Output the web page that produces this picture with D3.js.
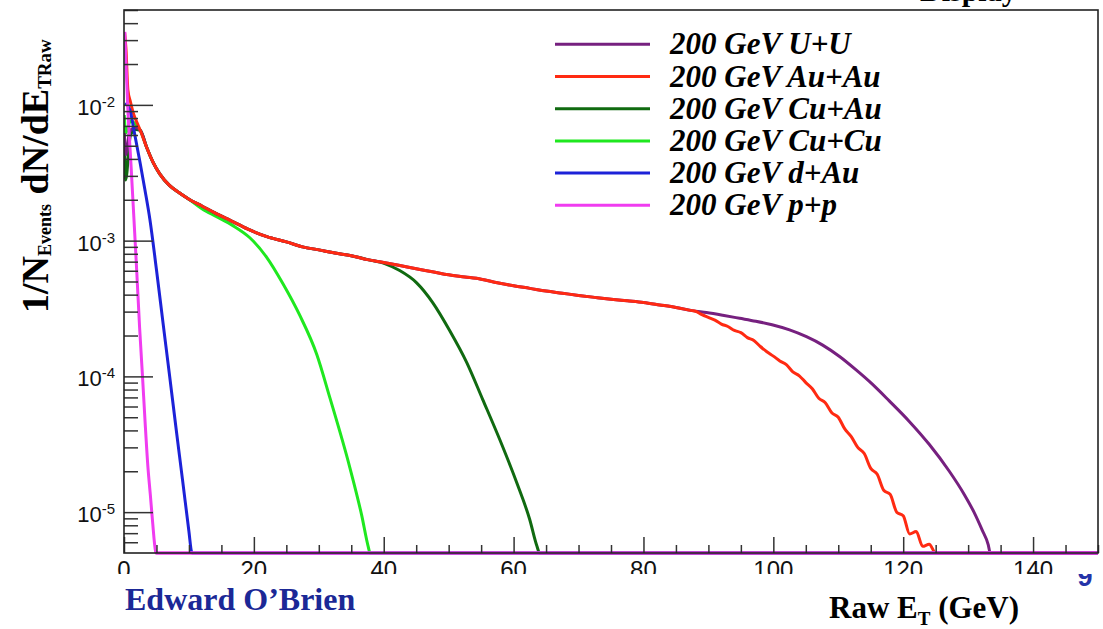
<!DOCTYPE html>
<html>
<head>
<meta charset="utf-8">
<script src="https://cdn.jsdelivr.net/npm/d3@7"></script>
<style>
  html, body { margin: 0; padding: 0; background: #ffffff; }
  svg { display: block; }
</style>
</head>
<body>
<svg id="chart" width="1103" height="629"></svg>
<script>
// ---- axis ticks and labels ----
const xMajorTicks = [0, 20, 40, 60, 80, 100, 120, 140];
const yMajorTicks = [1e-5, 1e-4, 1e-3, 1e-2];
const yTickExponents = ["-5", "-4", "-3", "-2"];

// ---- legend ----
const seriesLabels = ["200 GeV U+U", "200 GeV Au+Au", "200 GeV Cu+Au", "200 GeV Cu+Cu", "200 GeV d+Au", "200 GeV p+p"];

// ---- raw E_T spectra: [E_T (GeV), 1/N dN/dE_T] ; 0 = empty bin ----
// shape shared by the heavy-ion systems before each one falls off
const commonBody = [
  [2.5, 6.5e-3], [3.5, 4.85e-3], [4.5, 3.75e-3], [5.5, 3.1e-3], [7, 2.55e-3], [8.5, 2.25e-3],
  [10, 2.02e-3], [12, 1.8e-3], [14, 1.6e-3], [16.5, 1.4e-3], [19, 1.22e-3], [22, 1.07e-3],
  [25, 9.8e-4], [27.5, 9.0e-4], [30, 8.55e-4], [32.5, 8.1e-4], [35, 7.75e-4], [37.5, 7.25e-4],
  [40, 6.9e-4], [42.5, 6.55e-4], [45, 6.2e-4], [47.5, 5.9e-4], [50, 5.6e-4], [52.5, 5.4e-4],
  [55, 5.2e-4], [57.5, 4.9e-4], [60, 4.65e-4], [62.5, 4.45e-4], [65, 4.25e-4], [67.5, 4.1e-4],
  [70, 3.95e-4], [72.5, 3.82e-4], [75, 3.7e-4], [77.5, 3.6e-4], [80, 3.5e-4], [82.5, 3.36e-4],
  [85, 3.22e-4], [87.5, 3.05e-4]
];

const uuHead = [[0.05, 6.2e-3], [0.25, 4.3e-3], [0.9, 6.4e-3], [1.8, 6.8e-3]];
const uuTail = [
  [89.7, 2.95e-4], [92.2, 2.82e-4], [94.8, 2.68e-4], [97.3, 2.55e-4], [99.8, 2.4e-4], [102.5, 2.2e-4],
  [105.1, 1.96e-4], [107.6, 1.7e-4], [110.2, 1.4e-4], [112.7, 1.12e-4], [115.2, 8.8e-5], [117.85, 6.6e-5],
  [120.9, 4.68e-5], [124, 3.16e-5], [127.1, 2.0e-5], [129.4, 1.35e-5], [130.9, 1.0e-5], [132.15, 7.4e-6],
  [133.1, 5.75e-6], [133.4, 0], [150, 0]
];

const auauHead = [[0.1, 3.4e-2], [0.3, 2.6e-2], [0.6, 1.29e-2], [1.0, 1.05e-2], [1.5, 8.5e-3], [2.0, 7.4e-3]];
const auauTail = [
  [88, 3.02e-4], [89, 2.85e-4], [90, 2.72e-4], [91, 2.6e-4], [92, 2.43e-4], [93, 2.33e-4],
  [94, 2.18e-4], [95, 2.1e-4], [96, 1.93e-4], [97, 1.84e-4], [98, 1.66e-4], [99, 1.52e-4],
  [100, 1.41e-4], [101, 1.3e-4], [102, 1.22e-4], [103, 1.08e-4], [104, 1.01e-4], [105, 9.0e-5],
  [106, 8.1e-5], [107, 6.9e-5], [108, 6.4e-5], [109, 5.4e-5], [110, 5.0e-5], [111, 4.1e-5],
  [112, 3.6e-5], [113, 3.0e-5], [114, 2.7e-5], [115, 2.1e-5], [116, 1.9e-5], [117, 1.45e-5],
  [118, 1.35e-5], [119, 1.0e-5], [120, 9.4e-6], [121, 6.9e-6], [122, 7.2e-6], [123, 5.6e-6],
  [124, 5.8e-6], [125, 0], [150, 0]
];

const cuauHead = [[0.05, 6.0e-3], [0.25, 2.8e-3], [1.0, 6.0e-3], [1.8, 6.6e-3]];
const cuauTail = [
  [40.15, 6.78e-4], [42.46, 6.02e-4], [45.03, 4.91e-4], [47.54, 3.5e-4], [50.15, 2.18e-4], [52.77, 1.27e-4],
  [55.23, 6.78e-5], [57.85, 3.44e-5], [60.46, 1.66e-5], [62.46, 8.9e-6], [63.6, 5.6e-6], [64, 0], [150, 0]
];

const cucuHead = [[0.05, 8.4e-3], [0.25, 6.2e-3], [1.0, 7.6e-3], [1.8, 7.2e-3]];
const cucuTail = [
  [12, 1.72e-3], [14.26, 1.5e-3], [16.77, 1.29e-3], [19.38, 1.05e-3], [22.0, 7.5e-4], [24.46, 4.83e-4],
  [27.08, 2.81e-4], [29.69, 1.45e-4], [31.69, 7.0e-5], [34.77, 2.14e-5], [36.6, 9.5e-6], [37.6, 5.6e-6],
  [37.9, 0], [150, 0]
];

const dauSeries = [
  [0.2, 1.03e-2], [0.9, 9.2e-3], [1.7, 5.9e-3], [2.5, 3.7e-3], [3.2, 2.4e-3], [4.0, 1.42e-3],
  [5.0, 6.1e-4], [6.0, 2.5e-4], [7.0, 1.03e-4], [8.0, 4.2e-5], [9.0, 1.75e-5], [10.0, 7.2e-6],
  [10.4, 5.1e-6], [10.5, 0], [150, 0]
];

const ppSeries = [
  [0.12, 3.45e-2], [0.3, 2.1e-2], [0.6, 9.2e-3], [1.08, 3.6e-3], [1.54, 1.42e-3], [1.95, 6.1e-4],
  [2.4, 2.3e-4], [2.85, 1.0e-4], [3.25, 4.6e-5], [3.7, 2.1e-5], [4.05, 1.35e-5], [4.4, 8.5e-6],
  [4.85, 5.2e-6], [5.0, 0], [150, 0]
];

const uuSeries   = uuHead.concat(commonBody.filter(d => d[0] <= 87.5), uuTail);
const auauSeries = auauHead.concat(commonBody.filter(d => d[0] <= 87.5), auauTail);
const cuauSeries = cuauHead.concat(commonBody.filter(d => d[0] <= 37.5), cuauTail);
const cucuSeries = cucuHead.concat(commonBody.filter(d => d[0] <= 10), cucuTail);

// legend order
const allSeries = [uuSeries, auauSeries, cuauSeries, cucuSeries, dauSeries, ppSeries];
const seriesColors = ["#76207f", "#ff2a12", "#106a10", "#1fe81f", "#1c22d8", "#f03cf0"];
// painting order (index into allSeries)
const drawOrder = [3, 2, 0, 1, 4, 5];

// ---- layout ----
const W = 1103, H = 629;
const plotL = 124, plotR = 1098, plotT = 10, plotB = 553;
const sheetBottom = 574;

const svg = d3.select("#chart");
const serif = "'Liberation Serif', 'Times New Roman', serif";
const sans = "'Liberation Sans', Arial, Helvetica, sans-serif";

// page number sits underneath the chart sheet
svg.append("text")
  .attr("x", 1085).attr("y", 586)
  .attr("text-anchor", "middle")
  .attr("font-family", sans).attr("font-weight", "bold").attr("font-size", 27)
  .attr("fill", "#2433a8")
  .text("9");

svg.append("defs").append("clipPath").attr("id", "sheetClip")
  .append("rect").attr("x", 0).attr("y", 0).attr("width", W).attr("height", sheetBottom);
svg.select("defs").append("clipPath").attr("id", "plotClip")
  .append("rect").attr("x", plotL).attr("y", plotT - 2).attr("width", plotR - plotL).attr("height", plotB - plotT + 4);

const sheet = svg.append("g").attr("clip-path", "url(#sheetClip)");
sheet.append("rect").attr("x", 0).attr("y", 0).attr("width", W).attr("height", sheetBottom).attr("fill", "#ffffff");

// heading above the frame (mostly off the top of the sheet)
sheet.append("text")
  .attr("x", 920).attr("y", 0.5)
  .attr("font-family", serif).attr("font-weight", "bold").attr("font-size", 30)
  .attr("fill", "#000")
  .text("Display");

const x = d3.scaleLinear().domain([0, 150]).range([plotL, plotR]);
const y = d3.scaleLog().domain([5e-6, 0.05]).range([plotB, plotT]);
const yMin = y.domain()[0];

// ---- curves ----
const line = d3.line()
  .x(d => x(d[0]))
  .y(d => y(Math.max(d[1], yMin)))
  .curve(d3.curveMonotoneX);

const curves = sheet.append("g").attr("clip-path", "url(#plotClip)");
drawOrder.forEach(i => {
  curves.append("path")
    .datum(allSeries[i])
    .attr("d", line)
    .attr("fill", "none")
    .attr("stroke", seriesColors[i])
    .attr("stroke-width", 3)
    .attr("stroke-linejoin", "round");
});

// ---- axes ----
const tickColor = "#333";
const yMinor = [];
for (let e = -6; e <= -2; e++) {
  for (let m = 2; m <= 9; m++) {
    const v = m * Math.pow(10, e);
    if (v >= y.domain()[0] && v <= y.domain()[1]) yMinor.push(v);
  }
}
const xMinor = d3.range(0, 151, 5).filter(v => v % 20 !== 0);

function styleAxis(g) {
  g.select(".domain").remove();
  g.selectAll(".tick line").attr("stroke", tickColor).attr("stroke-width", 1.5);
}

sheet.append("g").attr("transform", `translate(${plotL},0)`)
  .call(d3.axisRight(y).tickValues(yMajorTicks).tickSize(29).tickFormat(""))
  .call(styleAxis);
sheet.append("g").attr("transform", `translate(${plotL},0)`)
  .call(d3.axisRight(y).tickValues(yMinor).tickSize(14).tickFormat(""))
  .call(styleAxis);
sheet.append("g").attr("transform", `translate(0,${plotB})`)
  .call(d3.axisTop(x).tickValues(xMajorTicks).tickSize(16).tickFormat(""))
  .call(styleAxis);
sheet.append("g").attr("transform", `translate(0,${plotB})`)
  .call(d3.axisTop(x).tickValues(xMinor).tickSize(8).tickFormat(""))
  .call(styleAxis);

// frame
sheet.append("rect")
  .attr("x", plotL).attr("y", plotT)
  .attr("width", plotR - plotL).attr("height", plotB - plotT)
  .attr("fill", "none").attr("stroke", "#222").attr("stroke-width", 1.6);

// redraw the p+p empty-bin floor over the frame, as the histogram does
curves.append("path")
  .datum(ppSeries.filter(d => d[1] === 0 || d[0] >= 4.85))
  .attr("d", line.curve(d3.curveLinear))
  .attr("fill", "none").attr("stroke", seriesColors[5]).attr("stroke-width", 3);

// y tick labels: 10^n
const yLab = sheet.append("g").attr("font-family", sans).attr("fill", "#111");
yMajorTicks.forEach((v, i) => {
  const t = yLab.append("text")
    .attr("x", 115).attr("y", y(v) + 10)
    .attr("text-anchor", "end")
    .attr("font-size", 22);
  t.append("tspan").text("10");
  t.append("tspan").attr("font-size", 15).attr("dy", -8).text(yTickExponents[i]);
});

// x tick labels
sheet.append("g").selectAll("text")
  .data(xMajorTicks).join("text")
  .attr("x", d => x(d)).attr("y", 578)
  .attr("text-anchor", "middle")
  .attr("font-family", sans).attr("font-size", 24).attr("fill", "#111")
  .text(d => d);

// ---- legend ----
const legend = sheet.append("g");
seriesLabels.forEach((label, i) => {
  const ly = 44.3 + i * 32.2;
  legend.append("line")
    .attr("x1", 555).attr("x2", 650).attr("y1", ly).attr("y2", ly)
    .attr("stroke", seriesColors[i]).attr("stroke-width", 3);
  legend.append("text")
    .attr("x", 670).attr("y", ly + 10)
    .attr("font-family", serif).attr("font-weight", "bold").attr("font-style", "italic")
    .attr("font-size", 31).attr("fill", "#000")
    .text(label);
});

// y-axis title: 1/N_Events dN/dE_TRaw
const yTitle = sheet.append("text")
  .attr("transform", "translate(48,313) rotate(-90)")
  .attr("font-family", serif).attr("font-weight", "bold").attr("font-size", 38)
  .attr("fill", "#000");
yTitle.append("tspan").text("1/N");
yTitle.append("tspan").attr("font-size", 18).attr("dy", 3).text("Events");
yTitle.append("tspan").attr("dy", -3).text(" dN/dE");
yTitle.append("tspan").attr("font-size", 19).attr("dy", 3).text("TRaw");

// ---- captions below the sheet ----
const xTitle = svg.append("text")
  .attr("x", 829).attr("y", 618)
  .attr("font-family", serif).attr("font-weight", "bold").attr("font-size", 31)
  .attr("fill", "#000");
xTitle.append("tspan").text("Raw E");
xTitle.append("tspan").attr("font-size", 19).attr("dy", 7).text("T");
xTitle.append("tspan").attr("dy", -7).text(" (GeV)");

svg.append("text")
  .attr("x", 125).attr("y", 610)
  .attr("font-family", serif).attr("font-weight", "bold").attr("font-size", 32)
  .attr("fill", "#1b2896")
  .text("Edward O\u2019Brien");
</script>
</body>
</html>
